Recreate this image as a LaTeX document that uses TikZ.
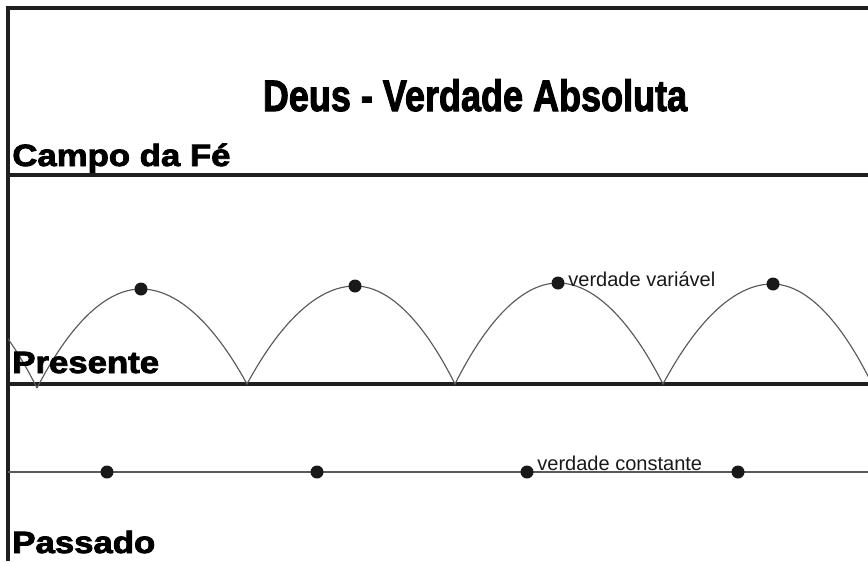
\documentclass[tikz,border=0pt]{standalone}
\usepackage{fontspec}
\setmainfont{Liberation Sans}
\newfontfamily\blackfont[BoldFeatures={FakeBold=2.5}]{Liberation Sans}
\usetikzlibrary{positioning}
\begin{document}
\begin{tikzpicture}[x=0.02cm, y=-0.02cm, every node/.style={inner sep=0pt},
  borda/.style={line width=2.2pt, color=black!88},
  linha/.style={line width=0.9pt, color=black!65},
  curva/.style={line width=0.65pt, color=black!65},
  ponto/.style={circle, fill=black!90, minimum size=0.26cm},
  rotulo/.style={font=\fontsize{11.4pt}{13pt}\selectfont, text=black!90},
  campo/.style={font=\blackfont\bfseries\fontsize{17.5pt}{20pt}\selectfont, text=black},
  titulo/.style={font=\blackfont\bfseries\fontsize{25pt}{28pt}\selectfont, text=black}]
  \useasboundingbox (0,0) rectangle (868,561);
  % moldura e faixas
  \draw[borda] (868,8) -- (8,8) -- (8,561);
  \draw[borda] (8,175) -- (868,175);
  \draw[borda] (8,384) -- (868,384);
  \draw[linha] (8,472) -- (868,472);
  % arcos da verdade variavel
  \begin{scope}
    \clip (8,0) rectangle (868,561);
    \draw[curva] (-171,384) parabola bend (-67,286) (37,388);
    \draw[curva] (37,388) parabola bend (141,289) (247,384) parabola bend (355,286) (455,384)
      parabola bend (558,283) (663,384) parabola bend (772,284) (870,380);
  \end{scope}
  \foreach \x/\y [count=\i] in {141/289, 355/286, 558/283, 773/284} \node[ponto] (v\i) at (\x,\y) {};
  \foreach \x [count=\i] in {107, 317, 527, 738} \node[ponto] (c\i) at (\x,472) {};
  \node[rotulo, anchor=base west] (variavel) at (568,286) {verdade variável};
  \node[rotulo, anchor=base west] (constante) at (537,470) {verdade constante};
  % titulos
  \node[titulo, anchor=base] (deus) at (475,111) {\scalebox{0.82}[1]{Deus - Verdade Absoluta}};
  \node[campo, anchor=base west] (fe) at (12,166) {\scalebox{1.13}[1]{Campo da Fé}};
  \node[campo, anchor=base west] (presente) at (12,373) {\scalebox{1.13}[1]{Presente}};
  \node[campo, anchor=base west] (passado) at (12,553) {\scalebox{1.13}[1]{Passado}};
\end{tikzpicture}
\end{document}
